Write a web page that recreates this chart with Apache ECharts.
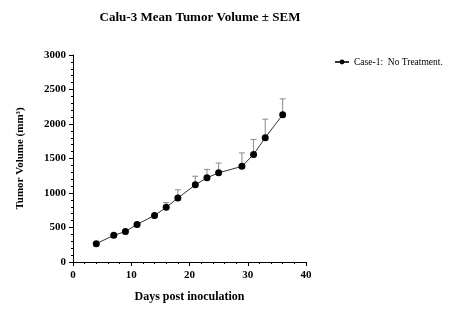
<!DOCTYPE html>
<html>
<head>
<meta charset="utf-8">
<script src="https://cdn.jsdelivr.net/npm/echarts@6/dist/echarts.min.js"></script>
<style>
  html, body { margin: 0; padding: 0; background: #ffffff; }
  #chart { width: 465px; height: 327px; }
</style>
</head>
<body>
<div id="chart"></div>
<script>
// Mean tumor volume per measurement day, with upper SEM
const days = [4, 7, 9, 11, 14, 16, 18, 21, 23, 25, 29, 31, 33, 36];
const meanVolume = [266, 386, 442, 545, 675, 792, 926, 1119, 1220, 1292, 1386, 1558, 1802, 2135];
const sem = [0, 0, 0, 36, 56, 70, 120, 124, 122, 142, 195, 218, 268, 230];
const seriesName = 'Case-1:  No Treatment.';
const xTicks = [0, 10, 20, 30, 40];
const yTicks = [0, 500, 1000, 1500, 2000, 2500, 3000];

const font = '"Liberation Serif", "Times New Roman", serif';

const points = days.map((d, i) => [d, meanVolume[i]]);
const errData = days.map((d, i) => [d, meanVolume[i], meanVolume[i] + sem[i]]);

const chart = echarts.init(document.getElementById('chart'), null, { renderer: 'canvas' });

chart.setOption({
  animation: false,
  backgroundColor: '#ffffff',
  title: {
    text: 'Calu-3 Mean Tumor Volume \u00B1 SEM',
    left: 195,
    textAlign: 'center',
    top: 6,
    textStyle: { fontFamily: font, fontWeight: 'bold', fontSize: 13, color: '#000' }
  },
  legend: {
    data: [{ name: seriesName }],
    left: 329,
    top: 52,
    itemWidth: 14,
    itemHeight: 6,
    itemGap: 4,
    textStyle: { fontFamily: font, fontSize: 9.5, color: '#000' }
  },
  grid: { left: 73, right: 159, top: 55, bottom: 65 },
  xAxis: {
    type: 'value',
    min: xTicks[0],
    max: xTicks[xTicks.length - 1],
    interval: 10,
    name: 'Days post inoculation',
    nameLocation: 'middle',
    nameGap: 29,
    nameTextStyle: { fontFamily: font, fontWeight: 'bold', fontSize: 12, color: '#000' },
    axisLine: { onZero: false, lineStyle: { color: '#000', width: 1 } },
    axisTick: { inside: false, length: 4, lineStyle: { color: '#000' } },
    minorTick: { show: true, splitNumber: 5, length: 2, lineStyle: { color: '#000' } },
    axisLabel: { fontFamily: font, fontWeight: 'bold', fontSize: 11, color: '#000', margin: 8 },
    splitLine: { show: false }
  },
  yAxis: {
    type: 'value',
    min: yTicks[0],
    max: yTicks[yTicks.length - 1],
    interval: 500,
    name: 'Tumor Volume (mm\u00B3)',
    nameLocation: 'middle',
    nameRotate: 90,
    nameGap: 47,
    nameTextStyle: { fontFamily: font, fontWeight: 'bold', fontSize: 11, color: '#000' },
    axisLine: { show: true, lineStyle: { color: '#000', width: 1 } },
    axisTick: { show: true, inside: false, length: 4, lineStyle: { color: '#000' } },
    minorTick: { show: true, splitNumber: 5, length: 2, lineStyle: { color: '#000' } },
    axisLabel: {
      fontFamily: font, fontWeight: 'bold', fontSize: 11, color: '#000', margin: 7,
      formatter: function (v) { return String(v); }
    },
    splitLine: { show: false }
  },
  series: [
    {
      name: seriesName,
      type: 'line',
      data: points,
      symbol: 'circle',
      symbolSize: 7,
      itemStyle: { color: '#000' },
      lineStyle: { color: '#333', width: 1 },
      z: 3
    },
    {
      name: 'sem',
      type: 'custom',
      data: errData,
      z: 2,
      renderItem: function (params, api) {
        const x = api.value(0);
        const base = api.coord([x, api.value(1)]);
        const top = api.coord([x, api.value(2)]);
        if (base[1] - top[1] < 4) return null;
        const half = 3;
        const style = { stroke: '#8a8a8a', lineWidth: 1 };
        return {
          type: 'group',
          children: [
            { type: 'line', shape: { x1: base[0], y1: base[1], x2: top[0], y2: top[1] }, style: style },
            { type: 'line', shape: { x1: top[0] - half, y1: top[1], x2: top[0] + half, y2: top[1] }, style: style }
          ]
        };
      }
    }
  ]
});
</script>
</body>
</html>
